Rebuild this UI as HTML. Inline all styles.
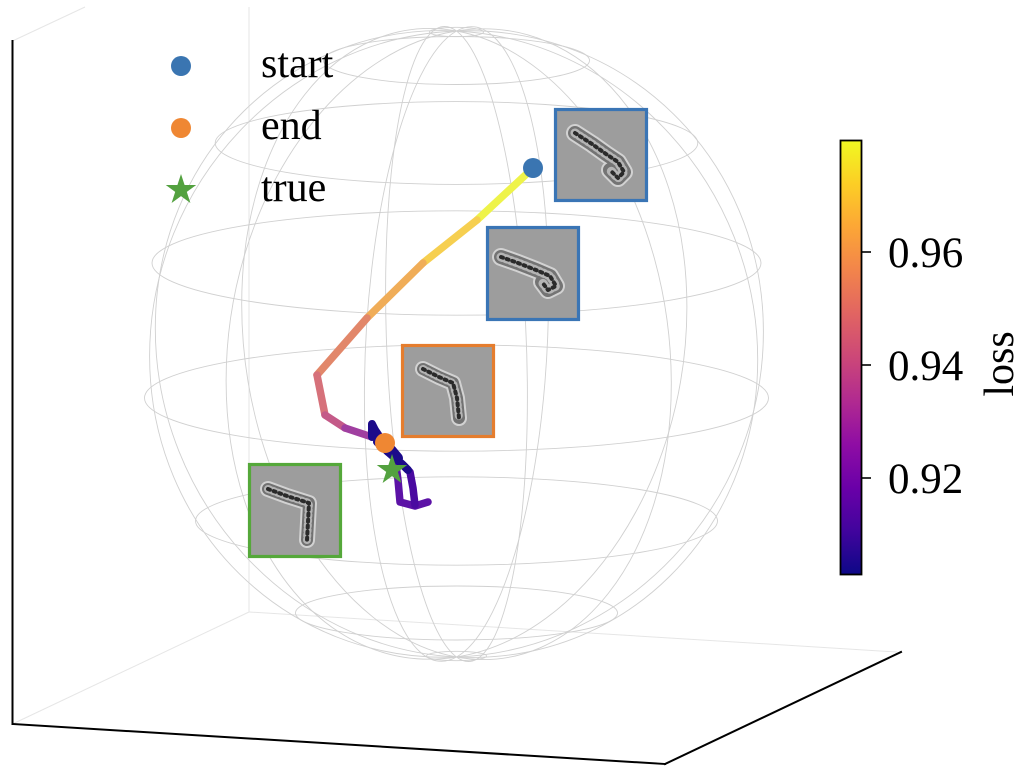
<!DOCTYPE html>
<html>
<head>
<meta charset="utf-8">
<style>
html,body{margin:0;padding:0;background:#fff;}
body{width:1024px;height:768px;overflow:hidden;}
svg{display:block;}
text{font-family:"Liberation Serif","DejaVu Serif",serif;fill:#000;}
</style>
</head>
<body>
<svg width="1024" height="768" viewBox="0 0 1024 768" xmlns="http://www.w3.org/2000/svg">
<defs>
<linearGradient id="plasma" x1="0" y1="1" x2="0" y2="0">
<stop offset="0" stop-color="#0d0887"/>
<stop offset="0.1" stop-color="#41049d"/>
<stop offset="0.2" stop-color="#6a00a8"/>
<stop offset="0.3" stop-color="#8f0da4"/>
<stop offset="0.4" stop-color="#b12a90"/>
<stop offset="0.5" stop-color="#cc4778"/>
<stop offset="0.6" stop-color="#e16462"/>
<stop offset="0.7" stop-color="#f2844b"/>
<stop offset="0.8" stop-color="#fca636"/>
<stop offset="0.9" stop-color="#fcce25"/>
<stop offset="1" stop-color="#f0f921"/>
</linearGradient>
<path id="s1" d="M575,133 L592,144 L606,154 L618,162 L624,172 L618,178 L610,170"/>
<path id="s2" d="M501,257 L518,263 L536,270 L550,276 L556,286 L548,290 L542,282"/>
<path id="s3" d="M423,369 L439,377 L453,383 L457,398 L459,418"/>
<path id="s4" d="M268,489 L287,496 L309,503 L308,522 L307,540"/>
</defs>

<!-- faint pane edges -->
<g stroke="#e6e6e6" stroke-width="1" fill="none">
<line x1="12.5" y1="41" x2="85" y2="7"/>
<line x1="249" y1="7" x2="249" y2="612"/>
<line x1="249" y1="612" x2="12.5" y2="724"/>
<line x1="249" y1="612" x2="897" y2="652"/>
</g>

<!-- sphere wireframe -->
<g stroke="#d0d0d0" stroke-width="0.9" fill="none">
<ellipse cx="456.5" cy="32" rx="27" ry="4.7"/>
<ellipse cx="456.5" cy="60.5" rx="133" ry="24"/>
<ellipse cx="456.5" cy="143" rx="241.3" ry="41.4"/>
<ellipse cx="456.5" cy="263" rx="304.5" ry="52.2"/>
<ellipse cx="456.5" cy="398" rx="312" ry="53.2"/>
<ellipse cx="456.5" cy="521" rx="261" ry="44.2"/>
<ellipse cx="456.5" cy="613" rx="161" ry="27"/>
<ellipse cx="456.5" cy="656" rx="30" ry="4.7"/>

<path d="M456.5,657 C495.7,686.1 527.4,569.5 527.4,396.6 C527.4,223.7 495.7,60.1 456.5,31"/>
<path d="M456.5,657 C575.1,678.8 671.3,556.4 671.3,383.5 C671.3,210.6 575.1,52.8 456.5,31"/>
<path d="M456.5,657 C622.9,665.7 757.7,532.7 757.7,359.8 C757.7,186.9 622.9,39.7 456.5,31"/>
<path d="M456.5,657 C626,650.3 763.4,504.7 763.4,331.8 C763.4,158.9 626,24.3 456.5,31"/>
<path d="M456.5,657 C583.7,636.7 686.9,480.1 686.9,307.2 C686.9,134.3 583.7,10.7 456.5,31"/>
<path d="M456.5,657 C507.4,628.5 548.6,465.3 548.6,292.4 C548.6,119.5 507.4,2.5 456.5,31"/>
<path d="M456.5,657 C417.3,627.9 385.6,464.3 385.6,291.4 C385.6,118.5 417.3,1.9 456.5,31"/>
<path d="M456.5,657 C337.9,635.2 241.7,477.4 241.7,304.5 C241.7,131.6 337.9,9.2 456.5,31"/>
<path d="M456.5,657 C290.1,648.3 155.3,501.1 155.3,328.2 C155.3,155.3 290.1,22.3 456.5,31"/>
<path d="M456.5,657 C287,663.7 149.6,529.1 149.6,356.2 C149.6,183.3 287,37.7 456.5,31"/>
<path d="M456.5,657 C329.3,677.3 226.1,553.7 226.1,380.8 C226.1,207.9 329.3,51.3 456.5,31"/>
<path d="M456.5,657 C405.6,685.5 364.4,568.5 364.4,395.6 C364.4,222.7 405.6,59.5 456.5,31"/>
</g>

<!-- axes black lines -->
<g stroke="#000" stroke-width="2" fill="none" stroke-linecap="square">
<line x1="12.5" y1="41" x2="12.5" y2="724"/>
<line x1="12.5" y1="724" x2="665" y2="764"/>
<line x1="665" y1="764" x2="901" y2="652"/>
</g>

<!-- trajectory -->
<g stroke-width="7.5" stroke-linecap="round" stroke-linejoin="round" fill="none">
<line x1="533" y1="168" x2="477" y2="220" stroke="#eef34a"/>
<line x1="477" y1="220" x2="423" y2="263" stroke="#f6cf50"/>
<line x1="423" y1="263" x2="367" y2="318" stroke="#f0ad58"/>
<line x1="367" y1="318" x2="317" y2="375" stroke="#e2876a"/>
<line x1="317" y1="375" x2="325" y2="415" stroke="#d6717a"/>
<line x1="325" y1="415" x2="345" y2="428" stroke="#c45a88"/>
<line x1="345" y1="428" x2="372" y2="437" stroke="#a03fa0"/>
<polyline points="395,458 398,480 400,502 415,506 428,502" stroke="#5c12a6"/>
<polyline points="404,466 410,472 413,488 415,505" stroke="#4a0aa0"/>
<polyline points="372,437 372,424 375,430 379,436 377,442 383,447 388,452 395,458 402,464 408,470" stroke="#1c0a8a" stroke-width="8"/>
<polyline points="374,432 381,440 388,446 393,452 398,458" stroke="#1c0a8a" stroke-width="10"/>
</g>

<!-- end / true markers -->
<circle cx="385" cy="443" r="10" fill="#ef8733"/>
<polygon transform="translate(392,470)" fill="#53a13f" points="0,-16 3.59,-4.94 15.22,-4.94 5.81,1.89 9.40,12.94 0,6.11 -9.40,12.94 -5.81,1.89 -15.22,-4.94 -3.59,-4.94"/>
<!-- start marker -->
<circle cx="533" cy="168" r="10" fill="#3a75b1"/>

<!-- thumbnails -->
<rect x="555.5" y="109.5" width="91" height="91" fill="#9d9d9d" stroke="#3a75b5" stroke-width="3.2"/>
<rect x="487.5" y="227.5" width="91" height="92" fill="#9d9d9d" stroke="#3a75b5" stroke-width="3.2"/>
<rect x="402.5" y="345.5" width="91" height="91" fill="#9d9d9d" stroke="#e57d2e" stroke-width="3.2"/>
<rect x="249.5" y="464.5" width="91" height="92" fill="#9d9d9d" stroke="#55a83a" stroke-width="3.2"/>

<g fill="none" stroke-linecap="round" stroke-linejoin="round">
<use href="#s1" stroke="#d2d2d2" stroke-width="18"/>
<use href="#s1" stroke="#747474" stroke-width="14"/>
<use href="#s1" stroke="#b4b4b4" stroke-width="9" stroke-dasharray="1.5 3.5"/>
<use href="#s1" stroke="#2a2a2a" stroke-width="4" stroke-dasharray="2 4"/>

<use href="#s2" stroke="#d2d2d2" stroke-width="18"/>
<use href="#s2" stroke="#747474" stroke-width="14"/>
<use href="#s2" stroke="#b4b4b4" stroke-width="9" stroke-dasharray="1.5 3.5"/>
<use href="#s2" stroke="#2a2a2a" stroke-width="4" stroke-dasharray="2 4"/>

<use href="#s3" stroke="#d2d2d2" stroke-width="16"/>
<use href="#s3" stroke="#727272" stroke-width="12"/>
<use href="#s3" stroke="#b4b4b4" stroke-width="8" stroke-dasharray="1.5 3.5"/>
<use href="#s3" stroke="#2a2a2a" stroke-width="4" stroke-dasharray="2 4"/>

<use href="#s4" stroke="#d2d2d2" stroke-width="16"/>
<use href="#s4" stroke="#727272" stroke-width="12"/>
<use href="#s4" stroke="#b4b4b4" stroke-width="8" stroke-dasharray="1.5 3.5"/>
<use href="#s4" stroke="#2a2a2a" stroke-width="4" stroke-dasharray="2 4"/>
</g>

<!-- legend -->
<circle cx="181" cy="66" r="10" fill="#3a75b1"/>
<circle cx="181" cy="128" r="10" fill="#ef8733"/>
<polygon transform="translate(181,190)" fill="#53a13f" points="0,-16 3.59,-4.94 15.22,-4.94 5.81,1.89 9.40,12.94 0,6.11 -9.40,12.94 -5.81,1.89 -15.22,-4.94 -3.59,-4.94"/>
<text x="261" y="77" font-size="42">start</text>
<text x="261" y="139" font-size="42">end</text>
<text x="261" y="201" font-size="42">true</text>

<!-- colorbar -->
<rect x="840.5" y="140.5" width="21" height="434" fill="url(#plasma)" stroke="#000" stroke-width="1.8"/>
<g stroke="#000" stroke-width="1.6">
<line x1="862" y1="252" x2="871" y2="252"/>
<line x1="862" y1="365" x2="871" y2="365"/>
<line x1="862" y1="478" x2="871" y2="478"/>
</g>
<text x="888" y="267" font-size="43">0.96</text>
<text x="888" y="380" font-size="43">0.94</text>
<text x="888" y="493" font-size="43">0.92</text>
<text transform="translate(1013,364) rotate(-90)" text-anchor="middle" font-size="42">loss</text>
</svg>
</body>
</html>
